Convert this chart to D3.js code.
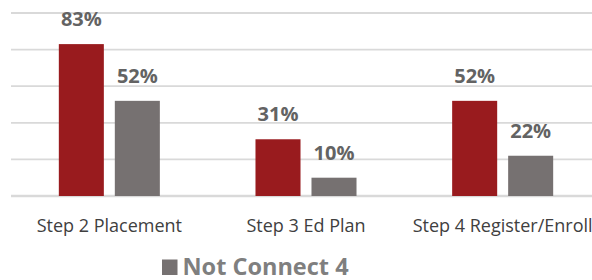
<!DOCTYPE html>
<html>
<head>
<meta charset="utf-8">
<script src="https://cdn.jsdelivr.net/npm/d3@7"></script>
<style>
  html, body { margin: 0; padding: 0; background: #fff; }
  svg { display: block; font-family: "Open Sans", sans-serif; }
</style>
</head>
<body>
<svg id="chart" width="592" height="280"></svg>
<script>
// chart values
const categories = ["Step 2 Placement", "Step 3 Ed Plan", "Step 4 Register/Enroll"]
const seriesNames = ["Connect 4", "Not Connect 4"]
const connect4 = [83, 31, 52]
const notConnect4 = [52, 10, 22]
const gridTicks = [0, 20, 40, 60, 80, 100]
const legendShown = ["Not Connect 4"]

const COLORS = { "Connect 4": "#991b1e", "Not Connect 4": "#767171" }

const rows = categories.map((c, i) => ({
  cat: c,
  values: [
    { key: "Connect 4", v: connect4[i] },
    { key: "Not Connect 4", v: notConnect4[i] }
  ]
}))

const svg = d3.select('#chart')
const width = 592

// y: 0% sits on the baseline, 100% on the top gridline
const y = d3.scaleLinear().domain([0, 100]).range([196, 13])

// outer band runs off the right edge, like the cropped original
const x0 = d3.scaleBand().domain(categories).range([11, 601]).padding(0)
const x1 = d3.scaleBand().domain(seriesNames)
  .range([0, x0.bandwidth()])
  .paddingInner(0.196)
  .paddingOuter(0.854)

// gridlines
svg.append("g")
  .selectAll("line")
  .data(gridTicks)
  .join("line")
  .attr("x1", 11)
  .attr("x2", width)
  .attr("y1", d => y(d))
  .attr("y2", d => y(d))
  .attr("stroke", "#d9d9d9")
  .attr("stroke-width", d => d === 0 ? 2.5 : 1.8)

// bars
const groups = svg.append("g")
  .selectAll("g")
  .data(rows)
  .join("g")
  .attr("transform", d => "translate(" + x0(d.cat) + ",0)")

groups.selectAll("rect")
  .data(d => d.values)
  .join("rect")
  .attr("x", d => x1(d.key))
  .attr("y", d => y(d.v))
  .attr("width", x1.bandwidth())
  .attr("height", d => y(0) - y(d.v))
  .attr("fill", d => COLORS[d.key])

// value labels
groups.selectAll("text")
  .data(d => d.values)
  .join("text")
  .attr("x", d => x1(d.key) + x1.bandwidth() / 2)
  .attr("y", d => y(d.v) - 18)
  .attr("text-anchor", "middle")
  .style("font-size", "20px")
  .style("font-weight", "bold")
  .style("fill", "#636363")
  .text(d => d.v + "%")

// category labels
svg.append("g")
  .selectAll("text")
  .data(categories)
  .join("text")
  .attr("x", d => x0(d) + x0.bandwidth() / 2)
  .attr("y", 232)
  .attr("text-anchor", "middle")
  .style("font-size", "18px")
  .style("fill", "#404040")
  .text(d => d)

// legend (only the second entry is visible in the original)
const legend = svg.append("g")
  .selectAll("g")
  .data(legendShown)
  .join("g")
  .attr("transform", "translate(162,259.5)")

legend.append("rect")
  .attr("width", 15.5)
  .attr("height", 15.5)
  .attr("fill", d => COLORS[d])

legend.append("text")
  .attr("x", 20.5)
  .attr("y", 15.5)
  .style("font-size", "23.5px")
  .style("font-weight", "bold")
  .style("fill", "#7f7f7f")
  .text(d => d)
</script>
</body>
</html>
